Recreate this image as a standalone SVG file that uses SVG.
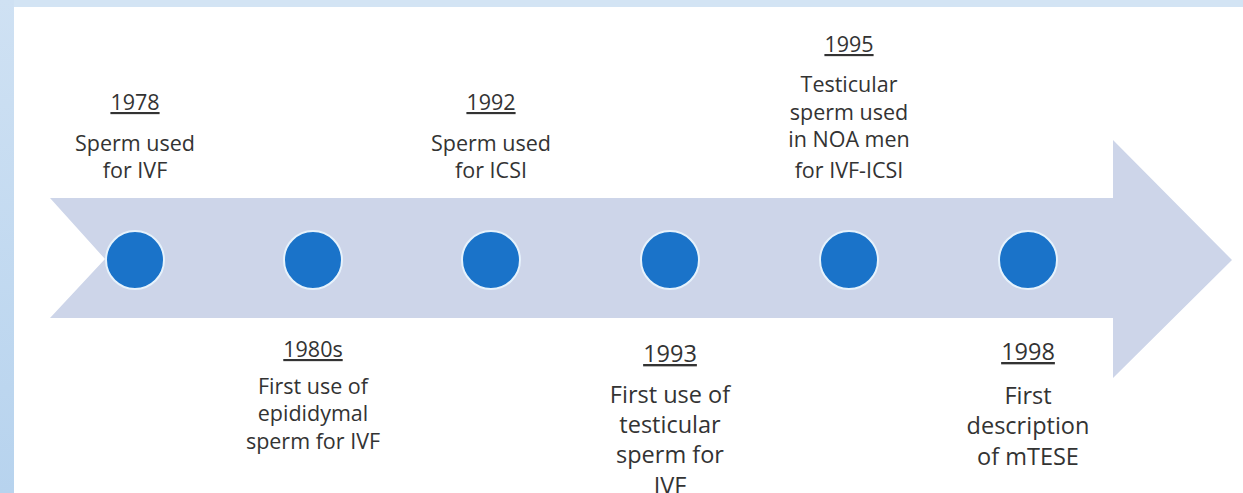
<svg xmlns="http://www.w3.org/2000/svg" width="1243" height="493" viewBox="0 0 1243 493">
<defs>
<linearGradient id="side" x1="0" y1="0" x2="0" y2="1">
<stop offset="0" stop-color="#cfe1f3"/>
<stop offset="1" stop-color="#b7d3ee"/>
</linearGradient>
<style>
.t{font-family:"Segoe UI","Open Sans","Noto Sans",sans-serif;fill:#333333;text-anchor:middle;font-size:21.5px}
.b{font-size:23.5px}
.yr{text-decoration:underline}
.dot{fill:#1a73c9;stroke:#e6f2fc;stroke-width:2}
</style>
</defs>
<rect width="1243" height="493" fill="#ffffff"/>
<rect x="0" y="0" width="1243" height="7" fill="#d3e4f4"/>
<rect x="0" y="0" width="14" height="493" fill="url(#side)"/>
<g id="arrow">
<polygon points="50,198 1113,198 1113,140 1232,260 1113,378 1113,318 50,318 105,259" fill="#cdd5e9"/>
</g>
<g id="connectors"></g>
<g id="n1978">
<circle class="dot" cx="135" cy="260" r="29"/>
<text class="t yr" x="135" y="110">1978</text>
<text class="t" x="135" y="151">Sperm used</text>
<text class="t" x="135" y="178">for IVF</text>
</g>
<g id="n1980s">
<circle class="dot" cx="313" cy="260" r="29"/>
<text class="t yr" x="313" y="357">1980s</text>
<text class="t" x="313" y="394">First use of</text>
<text class="t" x="313" y="421">epididymal</text>
<text class="t" x="313" y="449">sperm for IVF</text>
</g>
<g id="n1992">
<circle class="dot" cx="491" cy="260" r="29"/>
<text class="t yr" x="491" y="110">1992</text>
<text class="t" x="491" y="151">Sperm used</text>
<text class="t" x="491" y="178">for ICSI</text>
</g>
<g id="n1993">
<circle class="dot" cx="670" cy="260" r="29"/>
<text class="t b yr" x="670" y="362">1993</text>
<text class="t b" x="670" y="403">First use of</text>
<text class="t b" x="670" y="433">testicular</text>
<text class="t b" x="670" y="463">sperm for</text>
<text class="t b" x="670" y="494">IVF</text>
</g>
<g id="n1995">
<circle class="dot" cx="849" cy="260" r="29"/>
<text class="t yr" x="849" y="52">1995</text>
<text class="t" x="849" y="92">Testicular</text>
<text class="t" x="849" y="120">sperm used</text>
<text class="t" x="849" y="147">in NOA men</text>
<text class="t" x="849" y="178">for IVF-ICSI</text>
</g>
<g id="n1998">
<circle class="dot" cx="1028" cy="260" r="29"/>
<text class="t b yr" x="1028" y="360">1998</text>
<text class="t b" x="1028" y="404">First</text>
<text class="t b" x="1028" y="434">description</text>
<text class="t b" x="1028" y="465">of mTESE</text>
</g>
</svg>
